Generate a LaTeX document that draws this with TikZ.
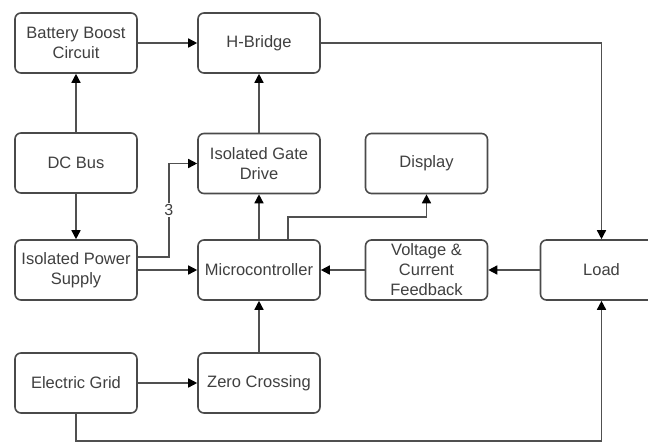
\documentclass[tikz,border=0pt]{standalone}
\usepackage{fontspec}
\setmainfont{Liberation Sans}
\usetikzlibrary{arrows.meta}
\definecolor{boxline}{HTML}{4A4A4A}
\definecolor{connline}{HTML}{505050}
\definecolor{txt}{HTML}{404040}
\tikzset{
  blk/.style={draw=boxline, line width=1.6pt, rounded corners=6pt, fill=white,
    minimum width=122pt, minimum height=60pt, inner sep=0pt, align=center,
    text=txt, font=\fontsize{16.5}{20}\selectfont},
  conn/.style={draw=connline, line width=1.5pt,
    -{Triangle[length=9pt,width=9pt,fill=black,color=black]}},
  lbl/.style={fill=white, text=txt, inner sep=1.5pt, font=\fontsize{16}{18}\selectfont}
}
\begin{document}
\begin{tikzpicture}[x=1pt,y=-1pt]
\useasboundingbox (0,0) rectangle (648,442);
\begin{scope}
\clip (0,0) rectangle (648,442);
\node[blk] (bbc) at (76,43) {Battery Boost\\Circuit};
\node[blk] (hb) at (259,43) {H-Bridge};
\node[blk] (dc) at (76,163) {DC Bus};
\node[blk] (igd) at (259,163.5) {Isolated Gate\\Drive};
\node[blk] (disp) at (426.5,163.5) {Display};
\node[blk] (ips) at (76,270) {Isolated Power\\Supply};
\node[blk] (mcu) at (259,270) {Microcontroller};
\node[blk] (vcf) at (426.5,270) {Voltage \&\\Current\\Feedback};
\node[blk] (load) at (601.5,270) {Load};
\node[blk] (eg) at (76,383) {Electric Grid};
\node[blk] (zc) at (259,383) {Zero Crossing};

\draw[conn] (dc) -- (bbc);
\draw[conn] (dc) -- (ips);
\draw[conn] (bbc) -- (hb);
\draw[conn] (igd) -- (hb);
\draw[conn] (hb.east) -| (load.north);
\draw[conn] ([yshift=13pt]ips.east) -- ++(31,0) |- node[pos=0.25,lbl]{3} (igd.west);
\draw[conn] (ips) -- (mcu);
\draw[conn] (vcf) -- (mcu);
\draw[conn] (load) -- (vcf);
\draw[conn] (mcu) -- (igd);
\draw[conn] ([xshift=29pt]mcu.north) -- ++(0,-22) -| (disp.south);
\draw[conn] (zc) -- (mcu);
\draw[conn] (eg) -- (zc);
\draw[conn] (eg.south) -- ++(0,27) -| (load.south);
\end{scope}
\end{tikzpicture}
\end{document}
